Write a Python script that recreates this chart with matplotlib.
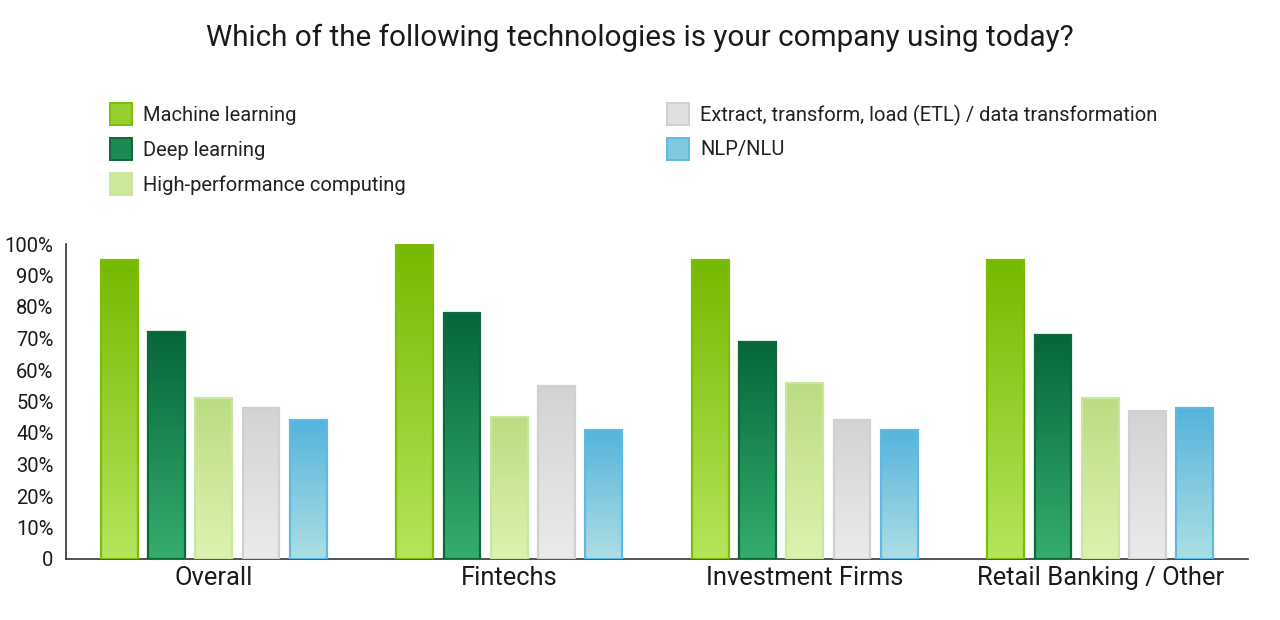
import numpy as np
import matplotlib
matplotlib.use("Agg")
import matplotlib.pyplot as plt
from matplotlib.colors import to_rgb
from matplotlib.patches import Rectangle

categories = ["Overall", "Fintechs", "Investment Firms", "Retail Banking / Other"]
series = ["Machine learning", "Deep learning", "High-performance computing",
          "Extract, transform, load (ETL) / data transformation", "NLP/NLU"]
machine_learning = [95, 100, 95, 95]
deep_learning = [72, 78, 69, 71]
hpc = [51, 45, 56, 51]
etl = [48, 55, 44, 47]
nlp = [44, 41, 41, 48]
values = [machine_learning, deep_learning, hpc, etl, nlp]
yticks = [0, 10, 20, 30, 40, 50, 60, 70, 80, 90, 100]
ytick_labels = ["0", "10%", "20%", "30%", "40%", "50%", "60%", "70%", "80%", "90%", "100%"]

top_colors = ["#76b900", "#05663a", "#bcdc82", "#d2d3d5", "#55b3dc"]
bottom_colors = ["#b6e55c", "#35ad6e", "#dcf3b0", "#ebebec", "#addfe3"]
edge_colors = ["#7dbd0a", "#0b6a3c", "#c9e6a0", "#d0d0d2", "#5cbbe6"]

plt.rcParams["font.family"] = ["Roboto", "DejaVu Sans"]
fig = plt.figure(figsize=(12.8, 6.2), dpi=100)
ax = fig.add_axes([66/1280, 61/620, 1182/1280, 315/620])

pitch = 0.16
width = 0.125
x = np.arange(len(categories))
for i, (vals, tc, bc, ec) in enumerate(zip(values, top_colors, bottom_colors, edge_colors)):
    offs = (i - 2) * pitch
    bars = ax.bar(x + offs, vals, width, facecolor="none", edgecolor=ec, linewidth=1.6, zorder=3)
    t = np.array(to_rgb(tc)); b = np.array(to_rgb(bc))
    grad = np.linspace(0, 1, 256)[:, None, None]
    img = b[None, None, :] * (1 - grad) + t[None, None, :] * grad
    for bar in bars:
        x0 = bar.get_x(); w = bar.get_width(); h = bar.get_height()
        im = ax.imshow(img, extent=[x0, x0 + w, 0, h], origin="lower", aspect="auto", zorder=2)
        im.set_clip_path(bar)

ax.set_xlim(-0.5, 3.5)
ax.set_ylim(0, 100)
ax.set_xticks(x)
ax.set_xticklabels(categories, fontsize=18.4, color="#1a1a1a")
ax.set_yticks(yticks)
ax.set_yticklabels(ytick_labels, fontsize=14.5, color="#1a1a1a")
ax.tick_params(axis="both", length=0)
ax.tick_params(axis="x", pad=5)
ax.tick_params(axis="y", pad=9)
for s in ["top", "right"]:
    ax.spines[s].set_visible(False)
ax.spines["left"].set_color("#333333")
ax.spines["bottom"].set_color("#333333")
ax.spines["left"].set_linewidth(1.2)
ax.spines["bottom"].set_linewidth(1.2)

fig.text(0.5, 1 - 38/620, "Which of the following technologies is your company using today?",
         ha="center", va="center", fontsize=21.3, color="#1a1a1a")

# legend
legend_pos = [(110, 114), (110, 149), (110, 184), (667, 114), (667, 149)]
for (px, py), name, tc, bc, ec in zip(legend_pos, series, top_colors, bottom_colors, edge_colors):
    mid = tuple((np.array(to_rgb(tc)) + np.array(to_rgb(bc))) / 2)
    fig.patches.append(Rectangle((px / 1280, 1 - (py + 11) / 620), 22 / 1280, 22 / 620,
                                 transform=fig.transFigure, facecolor=mid, edgecolor=ec, linewidth=1.4))
    fig.text((px + 33) / 1280, 1 - (py + 1) / 620, name, ha="left", va="center", fontsize=14.5, color="#222222")

fig.savefig("out.png", dpi=100, facecolor="white")
